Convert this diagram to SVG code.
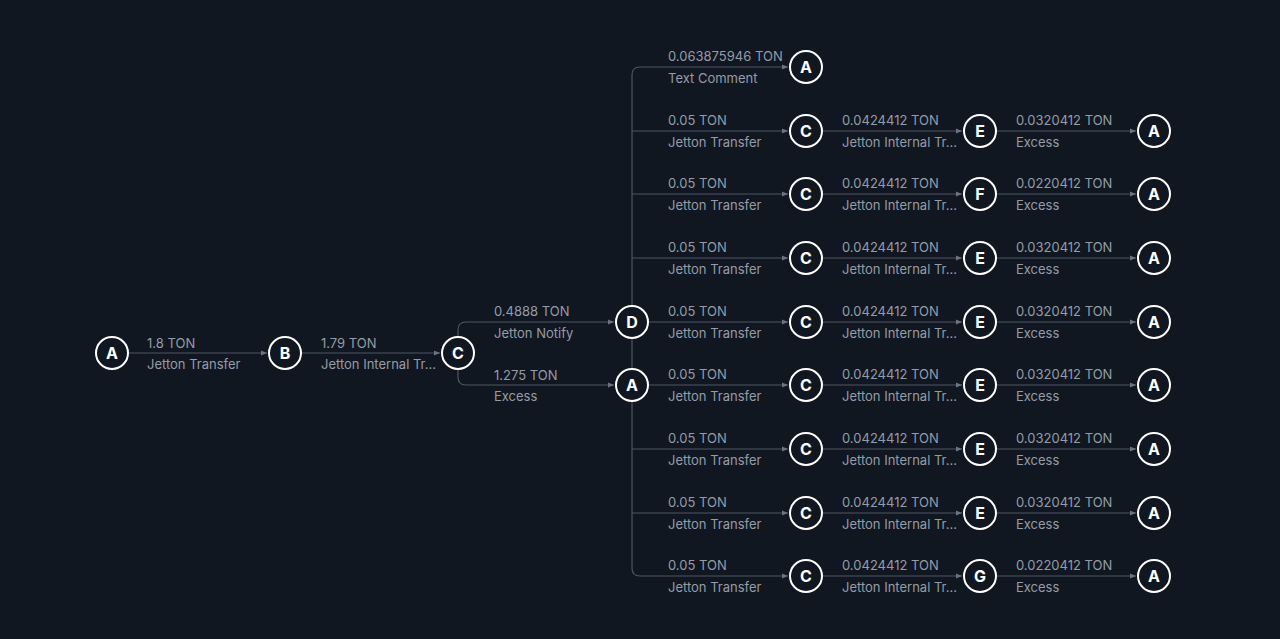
<svg xmlns="http://www.w3.org/2000/svg" width="1280" height="639" viewBox="0 0 1280 639">
<defs>
<marker id="ah" viewBox="0 0 6 6" refX="6" refY="3" markerWidth="6" markerHeight="6" markerUnits="userSpaceOnUse" orient="auto">
<path d="M0,0.5 L6,3 L0,5.5 Z" fill="#6b7280"/>
</marker>
<style>
.e{fill:none;stroke:#4e5663;stroke-width:1.2}
.a{marker-end:url(#ah)}
.n circle{fill:#111721;stroke:#ffffff;stroke-width:2}
.n text{fill:#ffffff;font-family:Inter,"Liberation Sans",sans-serif;font-size:16px;font-weight:700;text-anchor:middle;dominant-baseline:central}
.l{fill:#959ca7;font-family:Inter,"Liberation Sans",sans-serif;font-size:13px}
</style>
</defs>
<rect width="1280" height="639" fill="#111721"/>
<g id="connectors">
<path class="e a" d="M128,353 H267"/>
<path class="e a" d="M301,353 H440"/>
<path class="e a" d="M458,337 V330 Q458,322 466,322 H614"/>
<path class="e a" d="M458,369 V377 Q458,385 466,385 H614"/>
<path class="e a" d="M632,306 V75 Q632,67 640,67 H788"/>
<path class="e" d="M632,338 V369"/>
<path class="e a" d="M632,401 V568 Q632,576 640,576 H788"/>
<path class="e a" d="M632,131 H788"/>
<path class="e a" d="M632,194 H788"/>
<path class="e a" d="M632,258 H788"/>
<path class="e a" d="M648,322 H788"/>
<path class="e a" d="M648,385 H788"/>
<path class="e a" d="M632,449 H788"/>
<path class="e a" d="M632,513 H788"/>
<path class="e a" d="M822,131 H962"/>
<path class="e a" d="M822,194 H962"/>
<path class="e a" d="M822,258 H962"/>
<path class="e a" d="M822,322 H962"/>
<path class="e a" d="M822,385 H962"/>
<path class="e a" d="M822,449 H962"/>
<path class="e a" d="M822,513 H962"/>
<path class="e a" d="M822,576 H962"/>
<path class="e a" d="M996,131 H1136"/>
<path class="e a" d="M996,194 H1136"/>
<path class="e a" d="M996,258 H1136"/>
<path class="e a" d="M996,322 H1136"/>
<path class="e a" d="M996,385 H1136"/>
<path class="e a" d="M996,449 H1136"/>
<path class="e a" d="M996,513 H1136"/>
<path class="e a" d="M996,576 H1136"/>
</g>
<g id="labels">
<text class="l" x="147" y="348">1.8 TON</text><text class="l" x="147" y="369">Jetton Transfer</text>
<text class="l" x="321" y="348">1.79 TON</text><text class="l" x="321" y="369">Jetton Internal Tr…</text>
<text class="l" x="494" y="316">0.4888 TON</text><text class="l" x="494" y="338">Jetton Notify</text>
<text class="l" x="494" y="380">1.275 TON</text><text class="l" x="494" y="401">Excess</text>
<text class="l" x="668" y="61">0.063875946 TON</text><text class="l" x="668" y="83">Text Comment</text>
<text class="l" x="668" y="125">0.05 TON</text><text class="l" x="668" y="147">Jetton Transfer</text>
<text class="l" x="668" y="188">0.05 TON</text><text class="l" x="668" y="210">Jetton Transfer</text>
<text class="l" x="668" y="252">0.05 TON</text><text class="l" x="668" y="274">Jetton Transfer</text>
<text class="l" x="668" y="316">0.05 TON</text><text class="l" x="668" y="338">Jetton Transfer</text>
<text class="l" x="668" y="379">0.05 TON</text><text class="l" x="668" y="401">Jetton Transfer</text>
<text class="l" x="668" y="443">0.05 TON</text><text class="l" x="668" y="465">Jetton Transfer</text>
<text class="l" x="668" y="507">0.05 TON</text><text class="l" x="668" y="529">Jetton Transfer</text>
<text class="l" x="668" y="570">0.05 TON</text><text class="l" x="668" y="592">Jetton Transfer</text>
<text class="l" x="842" y="125">0.0424412 TON</text><text class="l" x="842" y="147">Jetton Internal Tr…</text>
<text class="l" x="842" y="188">0.0424412 TON</text><text class="l" x="842" y="210">Jetton Internal Tr…</text>
<text class="l" x="842" y="252">0.0424412 TON</text><text class="l" x="842" y="274">Jetton Internal Tr…</text>
<text class="l" x="842" y="316">0.0424412 TON</text><text class="l" x="842" y="338">Jetton Internal Tr…</text>
<text class="l" x="842" y="379">0.0424412 TON</text><text class="l" x="842" y="401">Jetton Internal Tr…</text>
<text class="l" x="842" y="443">0.0424412 TON</text><text class="l" x="842" y="465">Jetton Internal Tr…</text>
<text class="l" x="842" y="507">0.0424412 TON</text><text class="l" x="842" y="529">Jetton Internal Tr…</text>
<text class="l" x="842" y="570">0.0424412 TON</text><text class="l" x="842" y="592">Jetton Internal Tr…</text>
<text class="l" x="1016" y="125">0.0320412 TON</text><text class="l" x="1016" y="147">Excess</text>
<text class="l" x="1016" y="188">0.0220412 TON</text><text class="l" x="1016" y="210">Excess</text>
<text class="l" x="1016" y="252">0.0320412 TON</text><text class="l" x="1016" y="274">Excess</text>
<text class="l" x="1016" y="316">0.0320412 TON</text><text class="l" x="1016" y="338">Excess</text>
<text class="l" x="1016" y="379">0.0320412 TON</text><text class="l" x="1016" y="401">Excess</text>
<text class="l" x="1016" y="443">0.0320412 TON</text><text class="l" x="1016" y="465">Excess</text>
<text class="l" x="1016" y="507">0.0320412 TON</text><text class="l" x="1016" y="529">Excess</text>
<text class="l" x="1016" y="570">0.0220412 TON</text><text class="l" x="1016" y="592">Excess</text>
</g>
<g id="n0" class="n"><circle cx="112" cy="353" r="16"/><text x="112" y="353">A</text></g>
<g id="n1" class="n"><circle cx="285" cy="353" r="16"/><text x="285" y="353">B</text></g>
<g id="n2" class="n"><circle cx="458" cy="353" r="16"/><text x="458" y="353">C</text></g>
<g id="n3" class="n"><circle cx="632" cy="322" r="16"/><text x="632" y="322">D</text></g>
<g id="n4" class="n"><circle cx="632" cy="385" r="16"/><text x="632" y="385">A</text></g>
<g id="n5" class="n"><circle cx="806" cy="67" r="16"/><text x="806" y="67">A</text></g>
<g id="n6" class="n"><circle cx="806" cy="131" r="16"/><text x="806" y="131">C</text></g>
<g id="n7" class="n"><circle cx="806" cy="194" r="16"/><text x="806" y="194">C</text></g>
<g id="n8" class="n"><circle cx="806" cy="258" r="16"/><text x="806" y="258">C</text></g>
<g id="n9" class="n"><circle cx="806" cy="322" r="16"/><text x="806" y="322">C</text></g>
<g id="n10" class="n"><circle cx="806" cy="385" r="16"/><text x="806" y="385">C</text></g>
<g id="n11" class="n"><circle cx="806" cy="449" r="16"/><text x="806" y="449">C</text></g>
<g id="n12" class="n"><circle cx="806" cy="513" r="16"/><text x="806" y="513">C</text></g>
<g id="n13" class="n"><circle cx="806" cy="576" r="16"/><text x="806" y="576">C</text></g>
<g id="n14" class="n"><circle cx="980" cy="131" r="16"/><text x="980" y="131">E</text></g>
<g id="n15" class="n"><circle cx="980" cy="194" r="16"/><text x="980" y="194">F</text></g>
<g id="n16" class="n"><circle cx="980" cy="258" r="16"/><text x="980" y="258">E</text></g>
<g id="n17" class="n"><circle cx="980" cy="322" r="16"/><text x="980" y="322">E</text></g>
<g id="n18" class="n"><circle cx="980" cy="385" r="16"/><text x="980" y="385">E</text></g>
<g id="n19" class="n"><circle cx="980" cy="449" r="16"/><text x="980" y="449">E</text></g>
<g id="n20" class="n"><circle cx="980" cy="513" r="16"/><text x="980" y="513">E</text></g>
<g id="n21" class="n"><circle cx="980" cy="576" r="16"/><text x="980" y="576">G</text></g>
<g id="n22" class="n"><circle cx="1154" cy="131" r="16"/><text x="1154" y="131">A</text></g>
<g id="n23" class="n"><circle cx="1154" cy="194" r="16"/><text x="1154" y="194">A</text></g>
<g id="n24" class="n"><circle cx="1154" cy="258" r="16"/><text x="1154" y="258">A</text></g>
<g id="n25" class="n"><circle cx="1154" cy="322" r="16"/><text x="1154" y="322">A</text></g>
<g id="n26" class="n"><circle cx="1154" cy="385" r="16"/><text x="1154" y="385">A</text></g>
<g id="n27" class="n"><circle cx="1154" cy="449" r="16"/><text x="1154" y="449">A</text></g>
<g id="n28" class="n"><circle cx="1154" cy="513" r="16"/><text x="1154" y="513">A</text></g>
<g id="n29" class="n"><circle cx="1154" cy="576" r="16"/><text x="1154" y="576">A</text></g>
</svg>
